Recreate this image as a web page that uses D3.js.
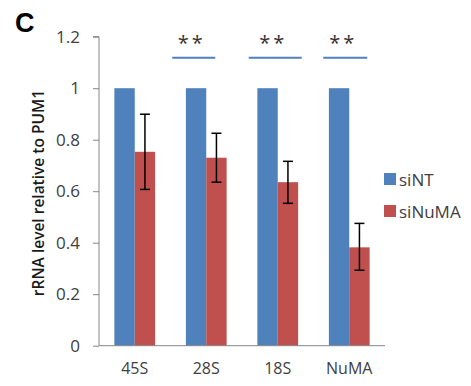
<!DOCTYPE html>
<html><head><meta charset="utf-8">
<script src="https://cdn.jsdelivr.net/npm/d3@7"></script>
<style>body{margin:0;background:#fff}svg{display:block}</style>
</head><body>
<script>
const categories = ["45S", "28S", "18S", "NuMA"];
const seriesNames = ["siNT", "siNuMA"];
const siNT = [1, 1, 1, 1];
const siNuMA = [0.753, 0.730, 0.635, 0.382];
const siNuMAErrUp = [0.146, 0.095, 0.081, 0.093];
const siNuMAErrDown = [0.146, 0.095, 0.082, 0.089];
const yTicks = [0, 0.2, 0.4, 0.6, 0.8, 1, 1.2];
const sigCategories = ["28S", "18S", "NuMA"];
const sigLabels = ["**", "**", "**"];
const colors = ["#4F81BD", "#C0504D"];

(function () {
const W = 471, H = 386;
const FONT = "'Open Sans', 'Liberation Sans', sans-serif";
const svg = d3.select("body").append("svg").attr("width", W).attr("height", H)
  .style("font-family", FONT);

const mLeft = 99, mRight = 385, mTop = 36.7, mBottom = 345.7;
const x = d3.scaleBand().domain(categories).range([mLeft, mRight]).paddingInner(0.43).paddingOuter(0.215);
const x1 = d3.scaleBand().domain(seriesNames).range([0, x.bandwidth()]);
const y = d3.scaleLinear().domain([0, 1.2]).range([mBottom, mTop]);

// bars
const series = [siNT, siNuMA];
series.forEach((vals, si) => {
  svg.append("g").selectAll("rect").data(categories).join("rect")
    .attr("x", d => x(d) + x1(seriesNames[si]))
    .attr("y", (d, i) => y(vals[i]))
    .attr("width", x1.bandwidth())
    .attr("height", (d, i) => y(0) - y(vals[i]))
    .attr("fill", colors[si]);
});

// error bars
const eg = svg.append("g").attr("stroke", "#000").attr("stroke-width", 1.5);
categories.forEach((c, i) => {
  const cx = x(c) + x1("siNuMA") + x1.bandwidth() / 2;
  const yt = y(siNuMA[i] + siNuMAErrUp[i]), yb = y(siNuMA[i] - siNuMAErrDown[i]);
  eg.append("line").attr("x1", cx).attr("x2", cx).attr("y1", yt).attr("y2", yb);
  eg.append("line").attr("x1", cx - 5).attr("x2", cx + 5).attr("y1", yt).attr("y2", yt);
  eg.append("line").attr("x1", cx - 5).attr("x2", cx + 5).attr("y1", yb).attr("y2", yb);
});

// y axis
const yAxis = d3.axisLeft(y).tickValues(yTicks).tickSize(6).tickPadding(13)
  .tickFormat(d => d3.format("")(+d.toFixed(1)));
const ya = svg.append("g").attr("transform", `translate(${mLeft},0)`).call(yAxis);
ya.select(".domain").attr("stroke", "#868686").attr("d", `M-6,${mTop}H0V${mBottom}`);
ya.selectAll(".tick line").attr("stroke", "#868686");
ya.selectAll(".tick text").attr("fill", "#404040").style("font-size", "17px")
  .style("font-family", FONT);

// x axis
const xAxis = d3.axisBottom(x).tickSize(0).tickPadding(17);
const xa = svg.append("g").attr("transform", `translate(0,${mBottom})`).call(xAxis);
xa.select(".domain").attr("stroke", "#868686").attr("d", `M${mLeft},0H${mRight}`);
xa.selectAll(".tick text").attr("fill", "#404040").style("font-size", "16px")
  .style("font-family", FONT);

// y label
svg.append("text").attr("transform", `translate(44,193) rotate(-90)`)
  .attr("text-anchor", "middle").attr("fill", "#1a1a1a")
  .style("font-size", "15.5px").style("font-weight", "600")
  .text("rRNA level relative to PUM1");

// significance
const sigOffsets = [[-34, 9], [-29, 24], [-26, 18]];
const sg = svg.append("g");
sigCategories.forEach((c, i) => {
  const cx = x(c) + x.bandwidth() / 2;
  sg.append("line").attr("x1", cx + sigOffsets[i][0]).attr("x2", cx + sigOffsets[i][1])
    .attr("y1", 57.7).attr("y2", 57.7).attr("stroke", colors[0]).attr("stroke-width", 2);
  sg.append("text").attr("x", cx + (sigOffsets[i][0] + sigOffsets[i][1]) / 2 - 2).attr("y", 50)
    .attr("text-anchor", "middle").attr("fill", "#333").style("font-size", "20px")
    .style("letter-spacing", "3px").text(sigLabels[i]);
});

// legend
const lg = svg.append("g");
seriesNames.forEach((s, i) => {
  const ly = 173 + i * 32;
  lg.append("rect").attr("x", 384).attr("y", ly).attr("width", 12).attr("height", 12).attr("fill", colors[i]);
  lg.append("text").attr("x", 399).attr("y", ly + 13).attr("fill", "#404040")
    .style("font-size", "17px").text(s);
});

// panel letter
svg.append("text").attr("x", 15).attr("y", 32).attr("fill", "#000")
  .style("font-size", "27px").style("font-weight", "bold")
  .style("font-family", "'Liberation Sans', Arial, sans-serif").text("C");
})();
</script>
</body></html>
